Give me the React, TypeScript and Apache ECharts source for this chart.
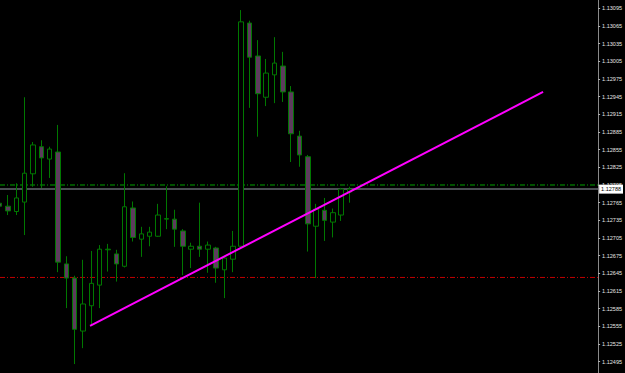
import React, { useEffect, useRef } from "react";
import * as echarts from "echarts";

// OHLC values of the 43 visible bars, left to right
const opens = [
  1.12764, 1.12759, 1.1275, 1.12766, 1.12814, 1.1286, 1.12839, 1.12851, 1.12661, 1.12637,
  1.12547, 1.1259, 1.12625, 1.12685, 1.12678, 1.12657, 1.12756, 1.12703, 1.12708, 1.12708,
  1.12737, 1.12737, 1.12717, 1.12686, 1.12691, 1.12686, 1.12688, 1.12651, 1.12669, 1.12691,
  1.1307, 1.13014, 1.12944, 1.12982, 1.12997, 1.12953, 1.12878, 1.12843, 1.12725, 1.12752,
  1.12732, 1.12744, 1.12783,
];
const closes = [
  1.12759, 1.12751, 1.12773, 1.12815, 1.12863, 1.12841, 1.12856, 1.12664, 1.12637, 1.1255,
  1.12593, 1.12628, 1.12686, 1.12686, 1.12661, 1.12758, 1.12706, 1.12712, 1.12715, 1.12744,
  1.12738, 1.1272, 1.12691, 1.12691, 1.12686, 1.12693, 1.12654, 1.12671, 1.12691, 1.13072,
  1.13012, 1.1295, 1.12985, 1.13002, 1.12953, 1.12882, 1.12846, 1.12729, 1.12754, 1.12735,
  1.12748, 1.12788, 1.12788,
];
const lows = [
  1.12754, 1.12744, 1.12744, 1.1271, 1.12792, 1.1279, 1.12807, 1.12647, 1.12586, 1.12491,
  1.12518, 1.12557, 1.12586, 1.12648, 1.12631, 1.12655, 1.12699, 1.12673, 1.12691, 1.12707,
  1.1272, 1.1269, 1.12642, 1.12654, 1.12673, 1.12646, 1.12629, 1.12603, 1.12647, 1.1269,
  1.12926, 1.12877, 1.12929, 1.12934, 1.12936, 1.12834, 1.12826, 1.12682, 1.12637, 1.127,
  1.12706, 1.12734, 1.12765,
];
const highs = [
  1.1277, 1.12778, 1.12798, 1.12944, 1.12868, 1.12871, 1.1286, 1.12897, 1.12674, 1.12641,
  1.12668, 1.12683, 1.12693, 1.12695, 1.12685, 1.12815, 1.12767, 1.12724, 1.12724, 1.12763,
  1.12793, 1.12753, 1.1272, 1.12697, 1.12765, 1.12699, 1.1269, 1.12673, 1.12717, 1.13092,
  1.13074, 1.13041, 1.13009, 1.13046, 1.13021, 1.12963, 1.12887, 1.12846, 1.12763, 1.12773,
  1.12755, 1.1279, 1.12792,
];

const tickLabels = [
  "1.12495", "1.12525", "1.12555", "1.12585", "1.12615", "1.12645", "1.12675",
  "1.12705", "1.12735", "1.12765", "1.12795", "1.12825", "1.12855", "1.12885",
  "1.12915", "1.12945", "1.12975", "1.13005", "1.13035", "1.13065", "1.13095",
];

const bidPrice = 1.12788;
const greenLevel = 1.12795;
const redLevel = 1.12638;
const trendStart = [10.85, 1.12556];
const trendEnd = [65.25, 1.12953];

const yMin = 1.124758;
const yMax = 1.131091;
const xMin = 0.036;
const xMax = 71.86;

export default function App() {
  const ref = useRef<HTMLDivElement>(null);

  useEffect(() => {
    if (!ref.current) return;
    const chart = echarts.init(ref.current, undefined, { renderer: "svg" });
    const tickValues = tickLabels.map(Number);
    const candles = opens.map((o, i) => [i, o, closes[i], lows[i], highs[i]]);

    const levelSeries = (level: number, color: string, width: number, type: any, z: number) => ({
      type: "line",
      z,
      silent: true,
      symbol: "none",
      clip: false,
      data: [
        [xMin, level],
        [xMax, level],
      ],
      lineStyle: { color, width, type },
    });

    chart.setOption({
      animation: false,
      backgroundColor: "#000000",
      grid: { left: 0, top: 0, width: 599, height: 373 },
      xAxis: {
        type: "value",
        min: xMin,
        max: xMax,
        show: false,
        splitLine: { show: false },
      },
      yAxis: {
        type: "value",
        position: "right",
        min: yMin,
        max: yMax,
        scale: true,
        splitLine: { show: false },
        axisLine: { show: true, lineStyle: { color: "#8a8a8a", width: 1 } },
        axisTick: {
          show: true,
          length: 2,
          lineStyle: { color: "#b0b0b0" },
          customValues: tickValues,
        },
        axisLabel: {
          show: true,
          customValues: tickValues,
          margin: 4,
          color: "#e6e6e6",
          fontSize: 5.5,
          fontFamily: "Liberation Sans, Arial, sans-serif",
          formatter: (v: number) => {
            let best = tickLabels[0];
            let d = Infinity;
            for (const t of tickLabels) {
              const dd = Math.abs(Number(t) - v);
              if (dd < d) {
                d = dd;
                best = t;
              }
            }
            return best;
          },
        },
      },
      series: [
        levelSeries(greenLevel, "#00a000", 1, [5, 2, 1, 2], 1),
        levelSeries(redLevel, "#c00000", 1, [5, 2, 1, 2], 1),
        {
          ...levelSeries(bidPrice, "#4b4e53", 2, "solid", 1),
          endLabel: {
            show: true,
            distance: 1,
            formatter: () => bidPrice.toFixed(5),
            color: "#000000",
            backgroundColor: "#ffffff",
            padding: [2, 2, 1, 2],
            fontSize: 5.5,
            fontFamily: "Liberation Sans, Arial, sans-serif",
          },
        },
        {
          type: "candlestick",
          z: 2,
          data: candles,
          encode: { x: 0, y: [1, 2, 3, 4] },
          barWidth: 5,
          itemStyle: {
            color: "#000000",
            color0: "#5d3c5d",
            borderColor: "#007800",
            borderColor0: "#007800",
            borderWidth: 1,
          },
        },
        {
          type: "line",
          z: 3,
          data: [trendStart, trendEnd],
          symbol: "none",
          lineStyle: { color: "#ff00ff", width: 2 },
        },
      ],
    });

    return () => chart.dispose();
  }, []);

  return (
    <div
      style={{ position: "fixed", left: 0, top: 0, width: 625, height: 373, background: "#000" }}
    >
      <div ref={ref} style={{ width: 625, height: 373 }} />
    </div>
  );
}
